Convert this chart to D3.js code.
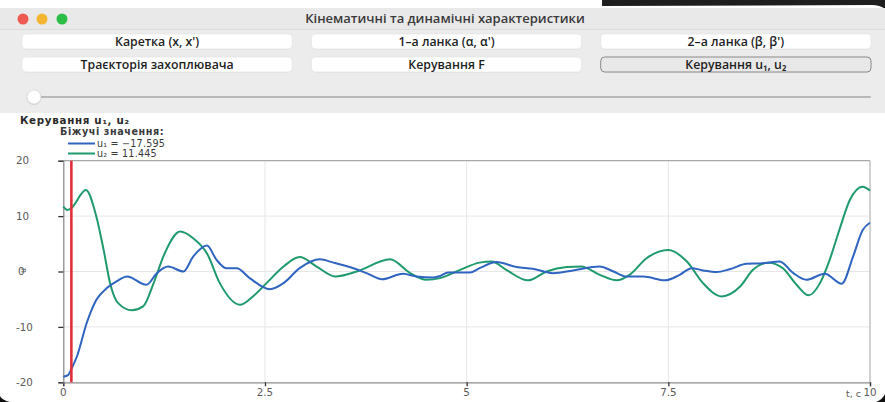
<!DOCTYPE html>
<html>
<head>
<meta charset="utf-8">
<script src="https://cdn.jsdelivr.net/npm/d3@7"></script>
<style>
  html, body { margin: 0; padding: 0; background: #fff; }
  svg { display: block; }
</style>
</head>
<body>
<svg id="view" width="885" height="402"></svg>
<script>
// Control sequences u1(t), u2(t)
const u1Time   = [0, 0.06, 0.1, 0.17, 0.29, 0.41, 0.54, 0.66, 0.79, 1.03, 1.16, 1.30, 1.49, 1.61, 1.78, 1.90, 2.02, 2.15, 2.31, 2.56, 2.73, 2.93, 3.18, 3.35, 3.55, 3.76, 3.95, 4.21, 4.38, 4.58, 4.67, 4.77, 5.04, 5.16, 5.37, 5.62, 5.82, 6.07, 6.32, 6.65, 6.82, 6.98, 7.19, 7.46, 7.64, 7.79, 7.93, 8.10, 8.26, 8.47, 8.67, 8.88, 9.05, 9.21, 9.44, 9.65, 9.79, 9.91, 10];
const u1Values = [-19.0, -18.7, -17.595, -15.3, -9.3, -5.1, -3.0, -1.8, -0.9, -2.4, -0.3, 0.9, 0.0, 2.7, 4.7, 2.1, 0.6, 0.6, -1.2, -3.2, -2.1, 0.6, 2.2, 1.6, 0.8, -0.3, -1.4, -0.4, -0.9, -1.1, -0.8, -0.2, -0.2, 0.6, 1.7, 0.8, 0.5, -0.3, 0.2, 0.9, 0.0, -0.9, -0.9, -1.6, -0.6, 0.6, 0.2, -0.1, 0.4, 1.4, 1.5, 1.8, -0.3, -1.5, -0.4, -2.2, 2.7, 7.5, 8.8];
const u2Time   = [0, 0.05, 0.1, 0.28, 0.41, 0.5, 0.58, 0.68, 0.85, 0.99, 1.12, 1.24, 1.45, 1.61, 1.78, 1.94, 2.19, 2.35, 2.52, 2.73, 2.93, 3.14, 3.37, 3.64, 4.05, 4.30, 4.5, 4.67, 4.92, 5.16, 5.31, 5.49, 5.76, 5.99, 6.24, 6.42, 6.65, 6.86, 7.02, 7.23, 7.50, 7.73, 7.93, 8.16, 8.39, 8.55, 8.74, 8.92, 9.09, 9.24, 9.38, 9.50, 9.62, 9.75, 9.91, 10];
const u2Values = [11.7, 11.1, 11.445, 14.7, 9.9, 3.9, -2.1, -5.7, -7.0, -6.3, -2.1, 2.7, 7.2, 6.0, 3.3, -2.1, -6.0, -4.5, -2.1, 0.9, 2.6, 0.9, -0.9, 0.0, 2.2, -0.3, -1.5, -1.2, 0.3, 1.6, 1.8, 0.3, -1.6, 0.0, 0.8, 0.9, -0.6, -1.6, -0.6, 2.4, 3.9, 1.8, -2.1, -4.5, -2.7, 0.3, 1.6, 0.6, -2.4, -4.3, -2.1, 2.1, 7.5, 12.9, 15.3, 14.6];

// Current time marker and running values
const cursorTime = 0.1;
const runningU1 = -17.595;
const runningU2 = 11.445;

const xTicks = [0, 2.5, 5, 7.5, 10];
const xTickLabels = ["0", "2.5", "5", "7.5", "10"];
const yTicks = [-20, -10, 0, 10, 20];
const yTickLabels = ["-20", "-10", "0", "10", "20"];

const windowTitle = "Кінематичні та динамічні характеристики";
const buttonLabels = [
  "Каретка (x, x')", "1–а ланка (α, α')", "2–а ланка (β, β')",
  "Траєкторія захоплювача", "Керування F", "Керування u₁, u₂"
];
const selectedButton = 5;
const chartTitle = "Керування u₁, u₂";
const legendTitle = "Біжучі значення:";
const seriesNames = ["u₁", "u₂"];
const seriesColors = ["#2f64c0", "#1f9a6c"];

const svg = d3.select("#view");

// ---------- window chrome ----------
svg.append("rect").attr("x", 0).attr("y", 0).attr("width", 885).attr("height", 402).attr("fill", "#ffffff");
// dark window edge behind, top right
svg.append("path").attr("d", "M602,0 L885,0 L885,9 Q880,5 872,5 L602,6 Z").attr("fill", "#1e1e1e");
svg.append("rect").attr("x", 0).attr("y", 8).attr("width", 885).attr("height", 105).attr("fill", "#ececec");
svg.append("rect").attr("x", 0).attr("y", 8).attr("width", 885).attr("height", 21).attr("fill", "#e9e9e9");
svg.append("line").attr("x1", 0).attr("x2", 885).attr("y1", 29.5).attr("y2", 29.5).attr("stroke", "#dcdcdc");

[["#ee5a52", 23], ["#f4b531", 42], ["#2bbd45", 62]].forEach(([c, x]) => {
  svg.append("circle").attr("cx", x).attr("cy", 19).attr("r", 5.5).attr("fill", c);
});
svg.append("text").attr("x", 445).attr("y", 23).attr("text-anchor", "middle")
  .attr("font-family", "Open Sans").attr("font-weight", 600).attr("font-size", 13)
  .attr("fill", "#3a3a3a").text(windowTitle);

const btnX = d3.scaleBand().domain([0, 1, 2]).range([22, 871]).paddingInner(0.066);
buttonLabels.forEach((label, i) => {
  const col = i % 3, row = Math.floor(i / 3);
  const x = btnX(col), y = row === 0 ? 34 : 57, w = btnX.bandwidth(), h = 15;
  const sel = i === selectedButton;
  svg.append("rect").attr("x", x).attr("y", y + 0.5).attr("width", w).attr("height", h)
    .attr("rx", 4).attr("fill", "rgba(0,0,0,0.06)");
  svg.append("rect").attr("x", x).attr("y", y).attr("width", w).attr("height", h)
    .attr("rx", 4).attr("fill", sel ? "#e8e8e8" : "#ffffff")
    .attr("stroke", sel ? "#8a8a8a" : "#e0e0e0").attr("stroke-width", sel ? 1 : 0.6);
  svg.append("text").attr("x", x + w / 2).attr("y", y + 11.5).attr("text-anchor", "middle")
    .attr("font-family", "Open Sans").attr("font-weight", 600).attr("font-size", 12.3)
    .attr("fill", "#1e1e1e").text(label);
});

// time slider
svg.append("line").attr("x1", 38).attr("x2", 870).attr("y1", 97).attr("y2", 97)
  .attr("stroke", "#b8b8b8").attr("stroke-width", 2).attr("stroke-linecap", "round");
svg.append("circle").attr("cx", 34).attr("cy", 97.5).attr("r", 7.5).attr("fill", "rgba(0,0,0,0.12)");
svg.append("circle").attr("cx", 34).attr("cy", 97).attr("r", 7).attr("fill", "#ffffff")
  .attr("stroke", "#d4d4d4").attr("stroke-width", 0.6);

// ---------- chart ----------
const plot = { left: 63.3, right: 870, top: 160.7, bottom: 382.3 };
const x = d3.scaleLinear().domain([0, 10]).range([plot.left, plot.right]);
const y = d3.scaleLinear().domain([-20, 20]).range([plot.bottom, plot.top]);

const g = svg.append("g");

// grid
g.selectAll(".gx").data(xTicks.slice(1, -1)).join("line")
  .attr("x1", d => x(d)).attr("x2", d => x(d)).attr("y1", plot.top).attr("y2", plot.bottom)
  .attr("stroke", "#e6e6e6").attr("stroke-width", 1);
g.selectAll(".gy").data(yTicks.slice(1, -1)).join("line")
  .attr("x1", plot.left).attr("x2", plot.right).attr("y1", d => y(d)).attr("y2", d => y(d))
  .attr("stroke", "#e6e6e6").attr("stroke-width", 1);

// frame
g.append("line").attr("x1", plot.left).attr("x2", plot.right).attr("y1", plot.top).attr("y2", plot.top)
  .attr("stroke", "#a8a8a8").attr("stroke-width", 1.2);
g.append("line").attr("x1", plot.right).attr("x2", plot.right).attr("y1", plot.top).attr("y2", plot.bottom)
  .attr("stroke", "#b4b4b4").attr("stroke-width", 1.2);

// axes
const xAxis = d3.axisBottom(x).tickValues(xTicks).tickSize(4).tickFormat(() => "");
const yAxis = d3.axisLeft(y).tickValues(yTicks).tickSize(5).tickFormat(() => "");
const gx = g.append("g").attr("transform", `translate(0,${plot.bottom})`).call(xAxis);
const gy = g.append("g").attr("transform", `translate(${plot.left},0)`).call(yAxis);
[gx, gy].forEach(a => {
  a.select(".domain").attr("stroke", "#8c8c8c").attr("stroke-width", 1.3);
  a.selectAll(".tick line").attr("stroke", "#333").attr("stroke-width", 1.3);
});

const tickFont = { family: "DejaVu Sans", size: 10.3, fill: "#5a5a5a" };
g.selectAll(".xl").data(xTicks).join("text")
  .attr("x", d => x(d)).attr("y", 396)
  .attr("text-anchor", "middle")
  .attr("font-family", tickFont.family).attr("font-size", tickFont.size).attr("fill", tickFont.fill)
  .text((d, i) => xTickLabels[i]);
g.append("text").attr("x", x(10) - 9).attr("y", 397).attr("text-anchor", "end")
  .attr("font-family", tickFont.family).attr("font-size", 9.5).attr("fill", tickFont.fill).text("t, c");

g.selectAll(".yl").data(yTicks).join("text")
  .attr("x", d => d === 0 ? 18 : 16).attr("y", d => y(d) + 3.7)
  .attr("font-family", tickFont.family).attr("font-size", tickFont.size).attr("fill", tickFont.fill)
  .text((d, i) => yTickLabels[i]);
g.append("text").attr("transform", `translate(26,${y(0) - 1}) rotate(-90)`)
  .attr("text-anchor", "middle").attr("font-family", tickFont.family).attr("font-size", 8)
  .attr("fill", tickFont.fill).text("u");

// series
const line = d3.line().x(d => x(d[0])).y(d => y(d[1])).curve(d3.curveMonotoneX);
const series = [d3.zip(u1Time, u1Values), d3.zip(u2Time, u2Values)];
// green is drawn first, blue on top at crossings
[1, 0].forEach(i => {
  g.append("path").datum(series[i]).attr("d", line)
    .attr("fill", "none").attr("stroke", seriesColors[i]).attr("stroke-width", 2)
    .attr("stroke-linejoin", "round");
});

// time cursor
g.append("line").attr("x1", x(cursorTime)).attr("x2", x(cursorTime))
  .attr("y1", plot.top).attr("y2", plot.bottom)
  .attr("stroke", "#e0303a").attr("stroke-width", 2.6);

// title and running values legend
svg.append("text").attr("x", 20).attr("y", 123.5)
  .attr("font-family", "DejaVu Sans").attr("font-weight", "bold").attr("font-size", 10.3)
  .attr("letter-spacing", 0.7).attr("fill", "#2a2a2a").text(chartTitle);
svg.append("text").attr("x", 60).attr("y", 135)
  .attr("font-family", "DejaVu Sans").attr("font-weight", "bold").attr("font-size", 9.6)
  .attr("letter-spacing", 0.6).attr("fill", "#3a3a3a").text(legendTitle);
const running = [runningU1, runningU2];
seriesNames.forEach((name, i) => {
  const ly = 143.5 + i * 10;
  svg.append("line").attr("x1", 68).attr("x2", 95).attr("y1", ly).attr("y2", ly)
    .attr("stroke", seriesColors[i]).attr("stroke-width", 2);
  svg.append("text").attr("x", 97).attr("y", ly + 3.5)
    .attr("font-family", "DejaVu Sans").attr("font-size", 9.6).attr("letter-spacing", 0.2)
    .attr("fill", "#3a3a3a")
    .text(`${name} = ${d3.format(".3f")(running[i]).replace("-", "−")}`);
});

// screen corners
svg.append("path").attr("d", "M0,396 Q2,400 10,402 L0,402 Z").attr("fill", "#111");
svg.append("path").attr("d", "M885,394 Q883,399 876,402 L885,402 Z").attr("fill", "#111");
</script>
</body>
</html>
